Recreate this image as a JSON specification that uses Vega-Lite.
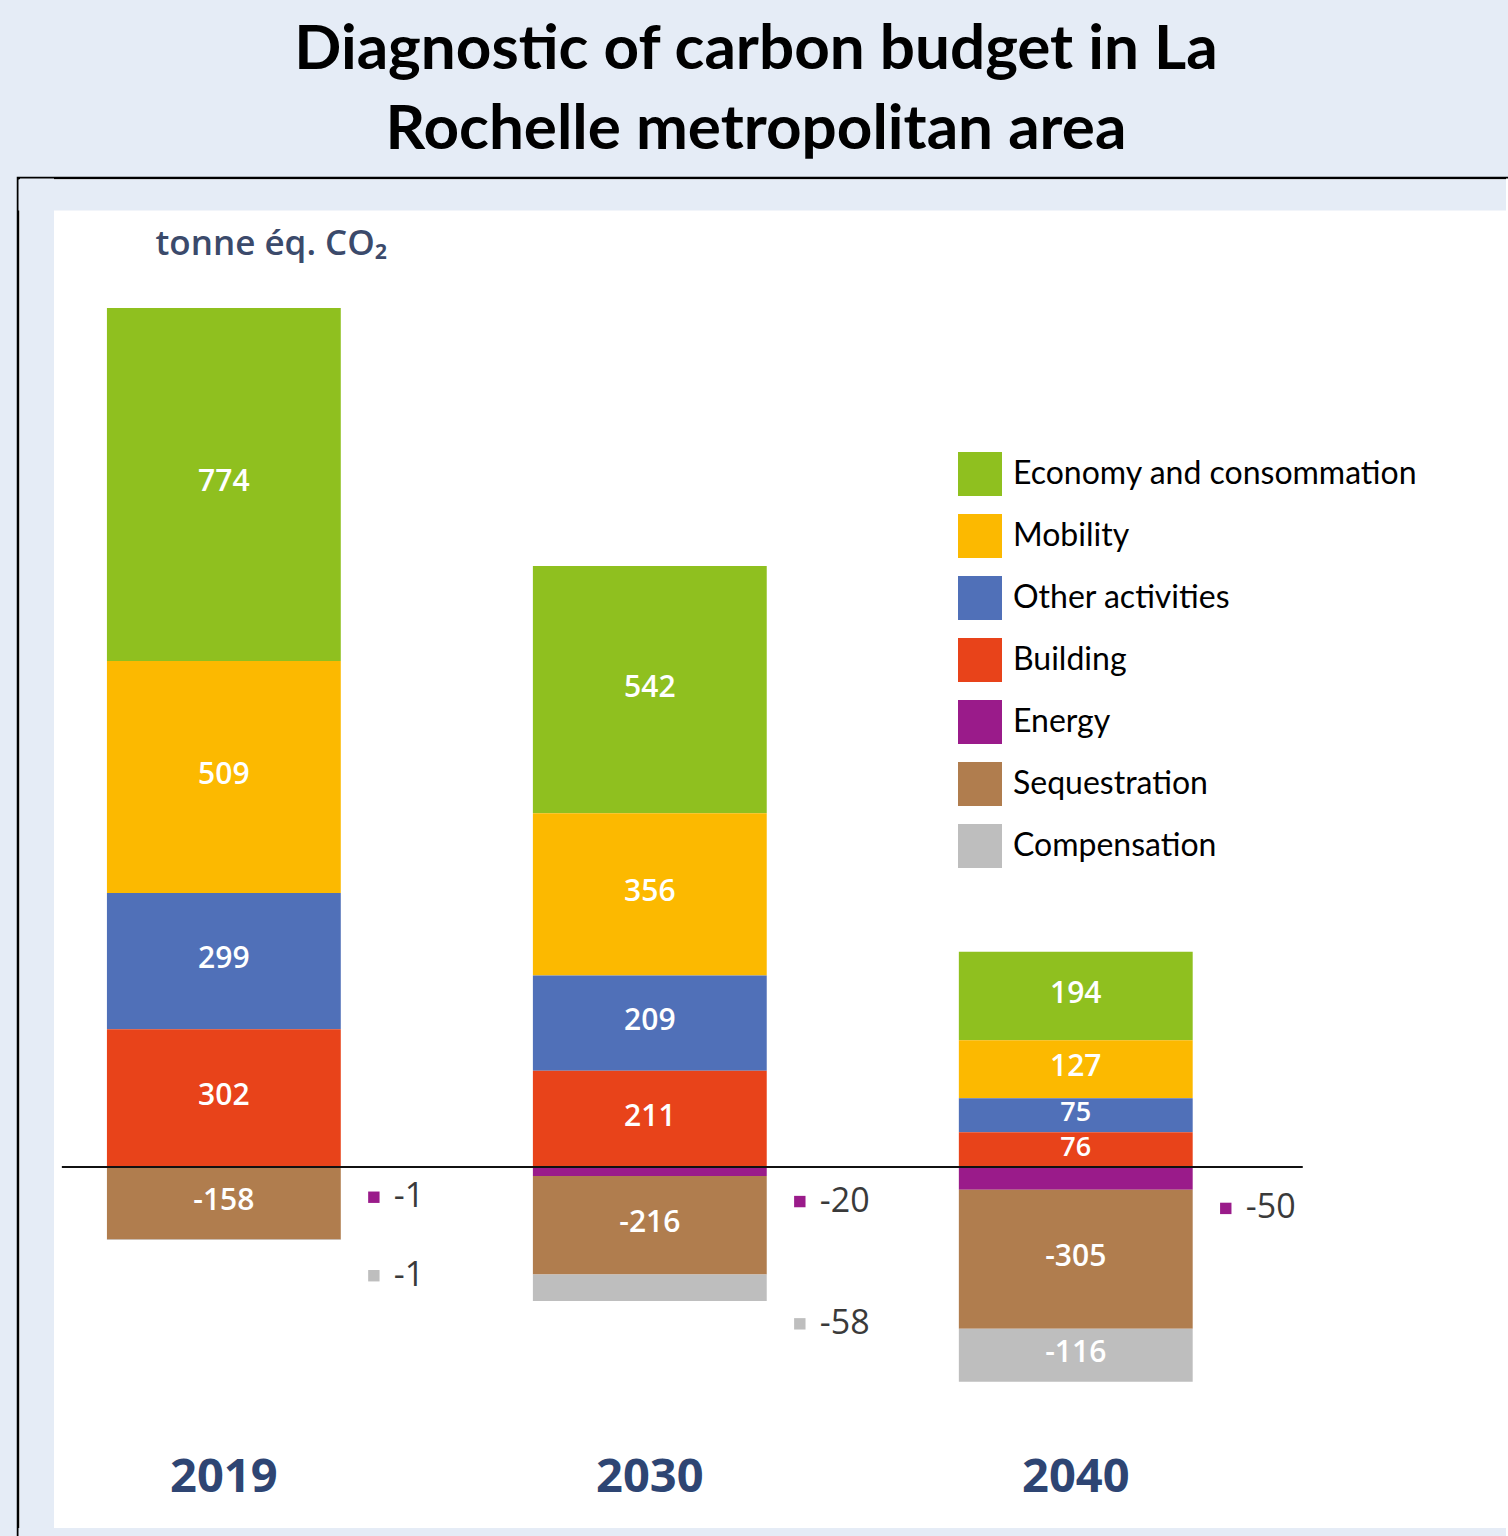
{
  "$schema": "https://vega.github.io/schema/vega-lite/v6.json",
  "autosize": {"type": "none"},
  "width": 1490,
  "height": 1358,
  "padding": {"left": 18, "top": 178, "right": 0, "bottom": 0},
  "background": "#E5ECF6",
  "title": {
    "text": ["Diagnostic of carbon budget in La", "Rochelle metropolitan area"],
    "font": "Lato",
    "fontSize": 62,
    "fontWeight": "bold",
    "color": "black",
    "anchor": "middle",
    "lineHeight": 80,
    "dx": -7,
    "offset": 16
  },
  "data": {
    "values": [
      {"year": "2019", "category": "Economy and consommation", "value": 774},
      {"year": "2019", "category": "Mobility", "value": 509},
      {"year": "2019", "category": "Other activities", "value": 299},
      {"year": "2019", "category": "Building", "value": 302},
      {"year": "2019", "category": "Energy", "value": -1},
      {"year": "2019", "category": "Sequestration", "value": -158},
      {"year": "2019", "category": "Compensation", "value": -1},
      {"year": "2030", "category": "Economy and consommation", "value": 542},
      {"year": "2030", "category": "Mobility", "value": 356},
      {"year": "2030", "category": "Other activities", "value": 209},
      {"year": "2030", "category": "Building", "value": 211},
      {"year": "2030", "category": "Energy", "value": -20},
      {"year": "2030", "category": "Sequestration", "value": -216},
      {"year": "2030", "category": "Compensation", "value": -58},
      {"year": "2040", "category": "Economy and consommation", "value": 194},
      {"year": "2040", "category": "Mobility", "value": 127},
      {"year": "2040", "category": "Other activities", "value": 75},
      {"year": "2040", "category": "Building", "value": 76},
      {"year": "2040", "category": "Energy", "value": -50},
      {"year": "2040", "category": "Sequestration", "value": -305},
      {"year": "2040", "category": "Compensation", "value": -116}
    ]
  },
  "transform": [
    {"calculate": "indexof(['Building','Other activities','Mobility','Economy and consommation','Energy','Sequestration','Compensation'], datum.category)", "as": "ord"},
    {"stack": "value", "groupby": ["year"], "sort": [{"field": "ord", "order": "ascending"}], "as": ["v0", "v1"]},
    {"calculate": "(datum.v0 + datum.v1) / 2", "as": "mid"}
  ],
  "layer": [
    {
      "mark": {"type": "bar"},
      "encoding": {
        "x": {
          "field": "year", "type": "nominal",
          "scale": {"paddingInner": 0.451, "paddingOuter": 0.4745, "align": 0.22},
          "axis": {
            "orient": "bottom", "title": null, "ticks": false, "tickSize": 0, "labelAngle": 0,
            "labelFont": "Open Sans", "labelFontSize": 47, "labelFontWeight": "bold", "labelColor": "#2E4573",
            "labelBaseline": "middle", "labelPadding": -55,
            "domainColor": "#E5ECF6", "domainWidth": 9, "offset": -4, "grid": false
          }
        },
        "y": {
          "field": "v0", "type": "quantitative",
          "scale": {"domain": [-809.3, 2169.1], "nice": false, "zero": false},
          "axis": {
            "orient": "left", "offset": -18.5, "domainColor": "#E5ECF6", "domainWidth": 34,
            "labels": false, "ticks": false, "grid": false,
            "title": "tonne éq. CO₂", "titleAngle": 0, "titleAlign": "left", "titleBaseline": "middle",
            "titleX": 118.5, "titleY": 65, "titleFont": "Open Sans", "titleFontSize": 35, "titleFontWeight": 600, "titleColor": "#3B4A6B"
          }
        },
        "y2": {"field": "v1"},
        "color": {
          "field": "category", "type": "nominal",
          "scale": {
            "domain": ["Economy and consommation", "Mobility", "Other activities", "Building", "Energy", "Sequestration", "Compensation"],
            "range": ["#8FC01F", "#FCB900", "#5070B8", "#E8431A", "#9A1B8A", "#B07D4E", "#BEBEBE"]
          },
          "legend": {
            "orient": "none", "legendX": 940, "legendY": 274, "title": null,
            "symbolType": "square", "symbolSize": 1936, "symbolStrokeWidth": 0, "symbolOpacity": 1,
            "labelFont": "Lato", "labelFontSize": 32, "labelColor": "black", "labelOffset": 11,
            "rowPadding": 18, "padding": 0, "labelLimit": 600
          }
        }
      }
    },
    {
      "transform": [{"filter": "datum.value > 0 || datum.value < -100"}],
      "mark": {"type": "text", "font": "Open Sans", "fontWeight": 600, "color": "white", "baseline": "middle", "dy": -2},
      "encoding": {
        "x": {"field": "year", "type": "nominal", "axis": null},
        "y": {"field": "mid", "type": "quantitative", "axis": null},
        "text": {"field": "value", "type": "nominal"},
        "size": {"condition": {"test": "abs(datum.value) < 100", "value": 27}, "value": 30}
      }
    },
    {
      "transform": [{"filter": "datum.category == 'Energy'"}],
      "mark": {"type": "point", "shape": "square", "filled": true, "opacity": 1, "size": 130, "xOffset": 150, "yOffset": 30},
      "encoding": {
        "x": {"field": "year", "type": "nominal", "axis": null},
        "y": {"field": "mid", "type": "quantitative", "axis": null},
        "color": {"field": "category", "type": "nominal"}
      }
    },
    {
      "transform": [{"filter": "datum.category == 'Energy'"}],
      "mark": {"type": "text", "font": "Open Sans", "fontSize": 34, "color": "#3A3A3A", "align": "left", "baseline": "middle", "dx": 170, "dy": 30},
      "encoding": {
        "x": {"field": "year", "type": "nominal", "axis": null},
        "y": {"field": "mid", "type": "quantitative", "axis": null},
        "text": {"field": "value", "type": "nominal"}
      }
    },
    {
      "transform": [{"filter": "datum.category == 'Compensation' && datum.value >= -100"}],
      "mark": {"type": "point", "shape": "square", "filled": true, "opacity": 1, "size": 130, "xOffset": 150, "yOffset": 36},
      "encoding": {
        "x": {"field": "year", "type": "nominal", "axis": null},
        "y": {"field": "mid", "type": "quantitative", "axis": null},
        "color": {"field": "category", "type": "nominal"}
      }
    },
    {
      "transform": [{"filter": "datum.category == 'Compensation' && datum.value >= -100"}],
      "mark": {"type": "text", "font": "Open Sans", "fontSize": 34, "color": "#3A3A3A", "align": "left", "baseline": "middle", "dx": 170, "dy": 36},
      "encoding": {
        "x": {"field": "year", "type": "nominal", "axis": null},
        "y": {"field": "mid", "type": "quantitative", "axis": null},
        "text": {"field": "value", "type": "nominal"}
      }
    },
    {
      "data": {"values": [{"year": "2019", "year_end": "2040"}]},
      "mark": {"type": "rule", "color": "#111111", "strokeWidth": 2, "xOffset": -162, "x2Offset": 227},
      "encoding": {
        "x": {
          "field": "year", "type": "nominal",
          "axis": {"orient": "top", "offset": -16.5, "domainColor": "#E5ECF6", "domainWidth": 31, "labels": false, "ticks": false, "title": null, "grid": false}
        },
        "x2": {"field": "year_end"},
        "y": {
          "datum": 0, "type": "quantitative",
          "axis": {"orient": "right", "offset": 0, "domainColor": "white", "domainWidth": 5, "labels": false, "ticks": false, "grid": false, "title": null}
        }
      }
    }
  ],
  "resolve": {"axis": {"x": "independent", "y": "independent"}},
  "config": {
    "view": {"fill": "white", "stroke": "black", "strokeWidth": 2.5}
  }
}
